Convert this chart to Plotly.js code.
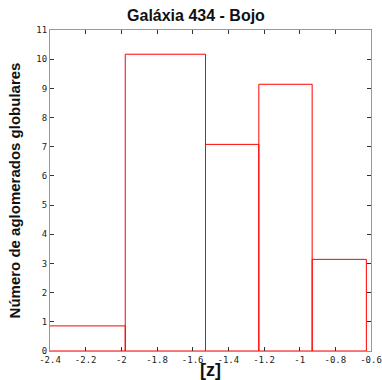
<!DOCTYPE html>
<html>
<head>
<meta charset="utf-8">
<script src="https://cdn.plot.ly/plotly-3.0.1.min.js"></script>
<style>
  html, body { margin: 0; padding: 0; background: #fff; }
  #chart { width: 382px; height: 380px; }
</style>
</head>
<body>
<div id="chart"></div>
<script>
// Metallicity bins [z]: left and right edges of each box
var binLeft  = [-2.43, -1.978, -1.528, -1.229, -0.930];
var binRight = [-1.978, -1.528, -1.229, -0.930, -0.626];
// Number of globular clusters in each bin
var counts = [0.86, 10.17, 7.08, 9.14, 3.14];

var xTicks = [-2.4, -2.2, -2.0, -1.8, -1.6, -1.4, -1.2, -1.0, -0.8, -0.6];
var xTickText = ['-2.4', '-2.2', '-2', '-1.8', '-1.6', '-1.4', '-1.2', '-1', '-0.8', '-0.6'];
var yTicks = [0, 1, 2, 3, 4, 5, 6, 7, 8, 9, 10, 11];

var centers = binLeft.map(function (l, i) { return (l + binRight[i]) / 2; });
var widths = binLeft.map(function (l, i) { return binRight[i] - l; });

var tickFont = { family: 'DejaVu Sans Mono, monospace', size: 9, color: '#222' };

var trace = {
  type: 'bar',
  x: centers,
  y: counts,
  width: widths,
  marker: { color: 'rgba(0,0,0,0)', line: { color: '#ff0000', width: 1 } },
  hoverinfo: 'skip'
};

var layout = {
  width: 382,
  height: 380,
  margin: { l: 50, r: 11, t: 30, b: 29 },
  paper_bgcolor: '#ffffff',
  plot_bgcolor: '#ffffff',
  showlegend: false,
  bargap: 0,
  title: {
    text: 'Galáxia 434 - Bojo',
    font: { family: 'Liberation Sans, Arial, sans-serif', size: 16, color: '#111', weight: 'bold' },
    x: 0.513, xref: 'container', xanchor: 'center',
    y: 0.96, yref: 'container', yanchor: 'middle'
  },
  xaxis: {
    range: [-2.4, -0.6],
    tickvals: xTicks,
    ticktext: xTickText,
    ticks: 'inside', ticklen: 4, tickcolor: '#333',
    showgrid: false, zeroline: false,
    showline: true, linecolor: '#999', linewidth: 1, mirror: 'ticks',
    tickfont: tickFont,
    title: { text: '<b>[z]</b>', font: { family: 'Liberation Sans, Arial, sans-serif', size: 18, color: '#111' }, standoff: 0 }
  },
  yaxis: {
    range: [0, 11],
    tickvals: yTicks,
    ticks: 'inside', ticklen: 4, tickcolor: '#333',
    showgrid: false, zeroline: false,
    showline: true, linecolor: '#999', linewidth: 1, mirror: 'ticks',
    tickfont: tickFont,
    title: { text: '<b>Número de aglomerados globulares</b>', font: { family: 'Liberation Sans, Arial, sans-serif', size: 15, color: '#111' }, standoff: 12 }
  }
};

Plotly.newPlot('chart', [trace], layout, { displayModeBar: false, staticPlot: true });
</script>
</body>
</html>
